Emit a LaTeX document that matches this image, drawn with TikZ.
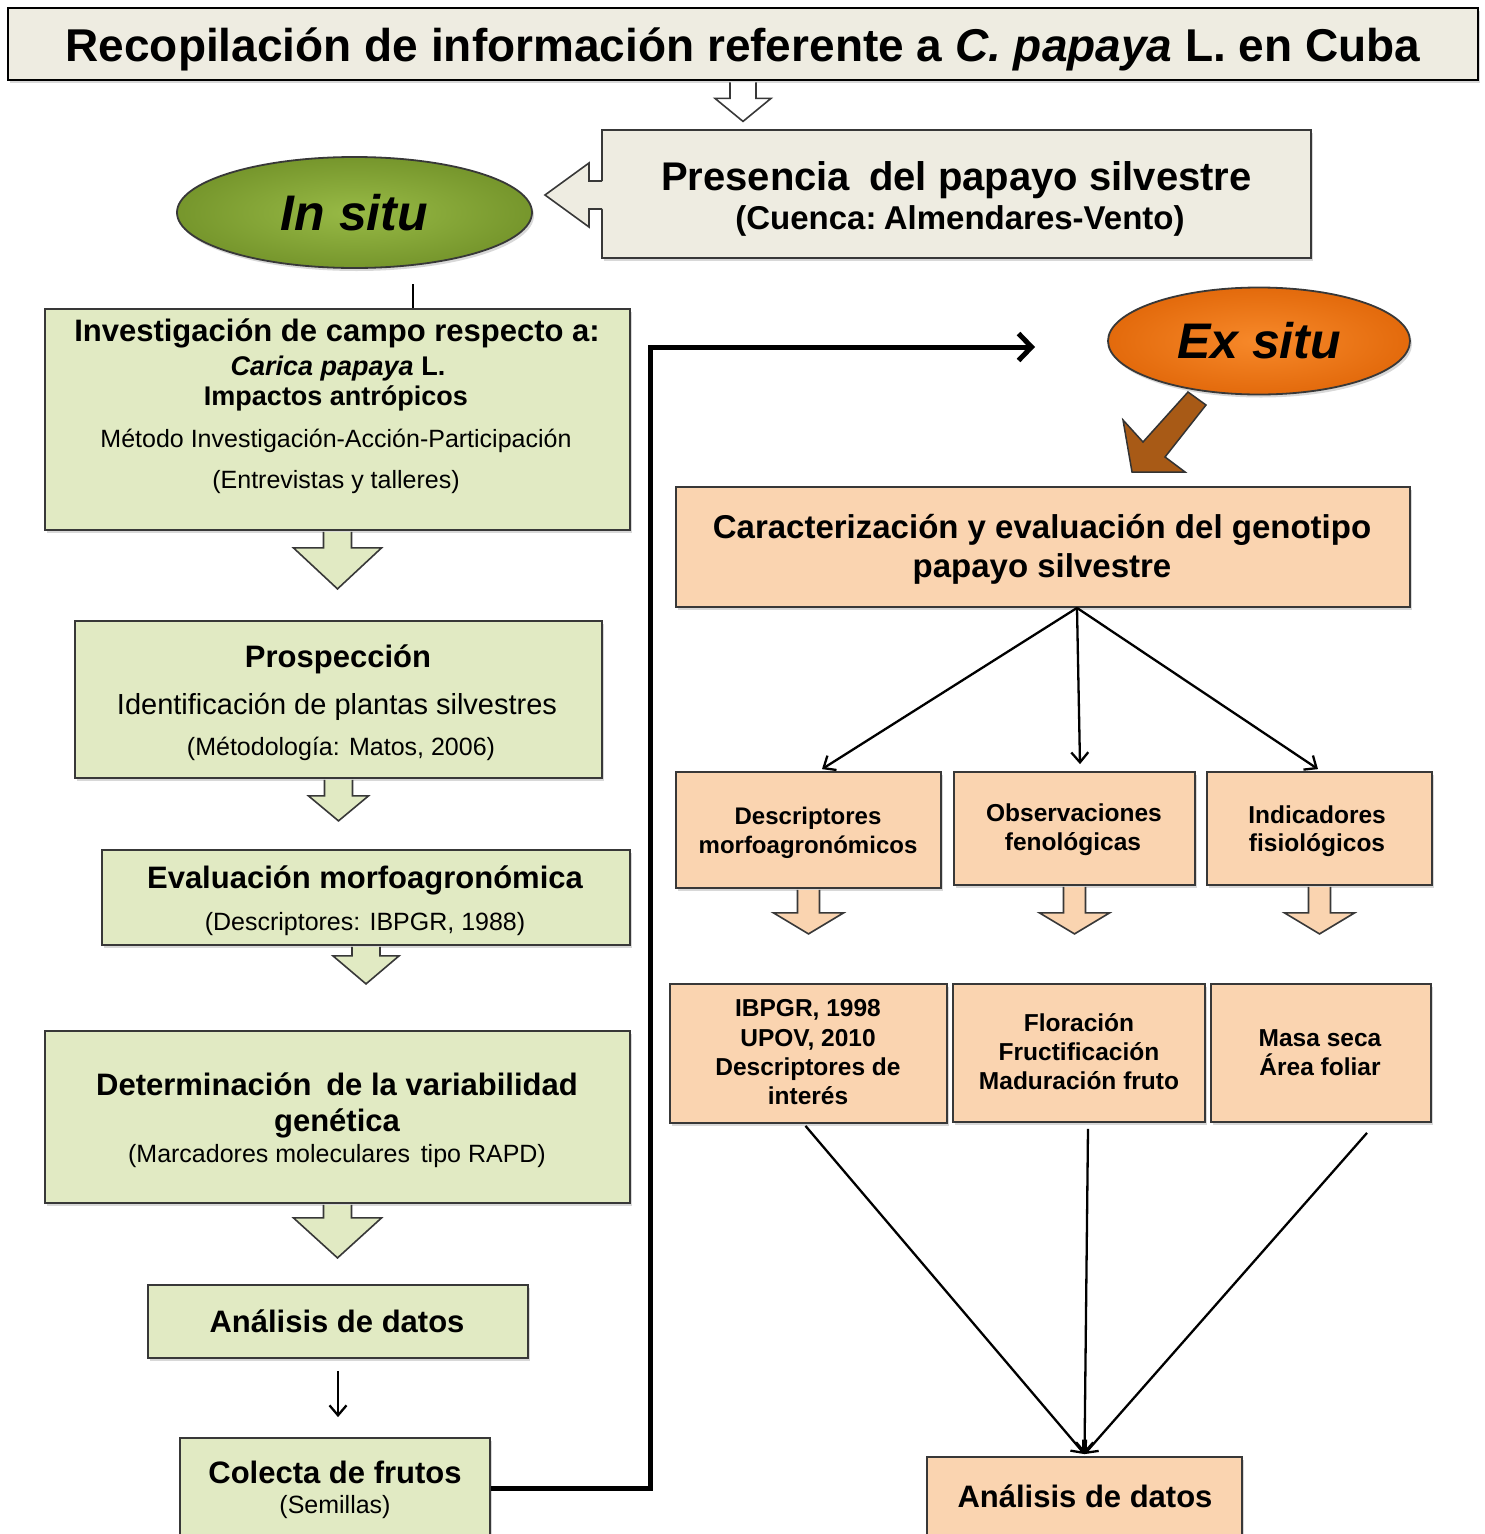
\documentclass[tikz,border=0pt]{standalone}
\usepackage{fontspec}
\setmainfont{Liberation Sans}
\usetikzlibrary{calc,arrows.meta,shadows,shapes.geometric}
\definecolor{tanc}{HTML}{EEECE1}
\definecolor{lgreen}{HTML}{E1EAC3}
\definecolor{peach}{HTML}{FAD4B0}
\definecolor{olivedk}{HTML}{76962C}
\definecolor{olivelt}{HTML}{98BA46}
\definecolor{orngdk}{HTML}{E36A0C}
\definecolor{ornglt}{HTML}{F7892A}
\definecolor{brwn}{HTML}{A85A16}
\definecolor{edgec}{HTML}{383838}
\newcommand\fs[1]{\fontsize{#1}{#1}\selectfont}
% block arrow pointing down: #1 start coordinate, #2 shaft half width, #3 shaft length,
% #4 head half width, #5 head length, #6 fill colour
\newcommand\bdown[6]{%
  \filldraw[blk, fill=#6] ($#1+(-#2,0.9)$) -- ($#1+(-#2,#3)$) -- ($#1+(-#4,#3)$)
    -- ($#1+(0,#3+#5)$) -- ($#1+(#4,#3)$) -- ($#1+(#2,#3)$) -- ($#1+(#2,0.9)$);}
\tikzset{
  box/.style={draw=edgec, line width=1.8pt, inner sep=0pt,
    drop shadow={shadow xshift=2pt, shadow yshift=-3pt, opacity=0.3}},
  gbox/.style={box, fill=lgreen},
  pbox/.style={box, fill=peach},
  tbox/.style={box, fill=tanc},
  blk/.style={draw=edgec, line width=1.6pt, line join=miter},
  tl/.style={inner sep=0pt, anchor=base},
  thinarrow/.style={line width=2.3pt, -{Straight Barb[length=10pt,width=17pt]}},
}
\begin{document}
\begin{tikzpicture}[x=1pt,y=-1pt]
\useasboundingbox (0,0) rectangle (1484,1534);
\clip (0,0) rectangle (1484,1534);
\fill[white] (0,0) rectangle (1484,1534);

% ---------- top ----------
\node[tbox, line width=2.8pt, draw=black, minimum width=1470pt, minimum height=72pt] (title) at (743,44) {};
\node[tl, font={\fs{46}\bfseries}] (titlet) at (743,61.5) {Recopilación de información referente a \textit{C. papaya} L. en Cuba};
\bdown{(title.south)}{13}{17}{28}{23}{white}

\node[tbox, line width=2.2pt, minimum width=709pt, minimum height=128pt] (pres) at (956.5,194) {};
\node[tl, font={\fs{40}\bfseries}] (pres1) at (956.5,190.3) {Presencia\hspace{0.2em} del papayo silvestre};
\node[tl, font={\fs{33}\bfseries}] (pres2) at (960,229.8) {(Cuenca:\hspace{-0.15em} Almendares-Vento)};
% callout arrow to the left
\fill[tanc] (603.5,181) -- (589,181) -- (589,163) -- (545,195) -- (589,227) -- (589,209) -- (603.5,209) -- cycle;
\draw[blk] (602,181) -- (589,181) -- (589,163) -- (545,195) -- (589,227) -- (589,209) -- (602,209);

\node[ellipse, draw=edgec, line width=1.8pt, minimum width=355pt, minimum height=111pt, inner sep=0pt,
      inner color=olivelt, outer color=olivedk,
      drop shadow={shadow xshift=2pt, shadow yshift=-3pt, opacity=0.3},
      font={\fs{50}\bfseries\itshape}] (insitu) at (354.5,212.5) {In situ};

% ---------- left column ----------
\node[gbox, minimum width=585pt, minimum height=221pt] (b1) at (337.5,419.5) {};
\node[tl, font={\fs{31}\bfseries}] (b1a) at (337,341.1) {Investigación de campo respecto a:};
\node[tl, font={\fs{27}\bfseries}] (b1b) at (338,375.7) {\textit{Carica papaya} L.};
\node[tl, font={\fs{27}\bfseries}] (b1c) at (336,405.7) {Impactos antrópicos};
\node[tl, font={\fs{25}}] (b1d) at (336,447) {Método Investigación-Acción-Participación};
\node[tl, font={\fs{25}}] (b1e) at (336,488) {(Entrevistas y talleres)};

\coordinate (b1top) at ($(b1.north)+(75.5,0)$);
\draw[line width=2.2pt] (b1top) -- ++(0,-24);

\node[gbox, minimum width=527pt, minimum height=157pt] (b2) at (338.5,699.5) {};
\node[tl, font={\fs{31}\bfseries}] (b2a) at (338,667.1) {Prospección};
\node[tl, font={\fs{29}}] (b2b) at (337,714.4) {Identificación de plantas silvestres};
\node[tl, font={\fs{25}}] (b2c) at (341,755) {(Métodología: Matos, 2006)};

\node[gbox, minimum width=528pt, minimum height=95pt] (b3) at (366,897.5) {};
\node[tl, font={\fs{31}\bfseries}] (b3a) at (365,888.1) {Evaluación morfoagronómica};
\node[tl, font={\fs{25}}] (b3b) at (365,930) {(Descriptores: IBPGR, 1988)};

\node[gbox, minimum width=585pt, minimum height=172pt] (b4) at (337.5,1117) {};
\node[tl, font={\fs{31}\bfseries}] (b4a) at (337,1095.1) {Determinación\hspace{0.2em} de la variabilidad};
\node[tl, font={\fs{31}\bfseries}] (b4b) at (337,1131.1) {genética};
\node[tl, font={\fs{25}}] (b4c) at (337,1162) {(Marcadores moleculares\hspace{0.15em} tipo RAPD)};

\node[gbox, minimum width=380pt, minimum height=73pt] (b5) at (338,1321.5) {};
\node[tl, font={\fs{31}\bfseries}] (b5a) at (337,1332.1) {Análisis de datos};

\node[gbox, minimum width=310pt, minimum height=100pt] (b6) at (335,1488) {};
\node[tl, font={\fs{31}\bfseries}] (b6a) at (335,1483.1) {Colecta de frutos};
\node[tl, font={\fs{25}}] (b6b) at (335,1513) {(Semillas)};

\bdown{(b1.south)}{14}{17}{44}{41}{lgreen}
\bdown{(b2.south)}{14}{17}{30}{25}{lgreen}
\bdown{(b3.south)}{14}{10}{33}{28}{lgreen}
\bdown{(b4.south)}{14}{14}{44}{40}{lgreen}

\draw[thinarrow] ($(b5.south)+(0,12)$) -- ($(b6.north)+(3,-20)$);

% ---------- right column ----------
\node[ellipse, draw=edgec, line width=1.8pt, minimum width=302pt, minimum height=107pt, inner sep=0pt,
      inner color=ornglt, outer color=orngdk,
      drop shadow={shadow xshift=2pt, shadow yshift=-3pt, opacity=0.3},
      font={\fs{50}\bfseries\itshape}] (exsitu) at (1259,341) {Ex situ};

\coordinate (turn) at (650,347);
\coordinate (exin) at (1035,347);
\draw[line width=5pt, line join=miter, -{Straight Barb[length=13pt,width=27pt]}] (b6.east) -| (turn) -- (exin);

\filldraw[fill=brwn, draw=black!80, line width=1.5pt, line join=miter]
  (1188,392) -- (1206,405) -- (1165,457) -- (1185,472) -- (1132,472) -- (1123,420) -- (1143,442) -- cycle;

\node[pbox, minimum width=734pt, minimum height=120pt] (car) at (1043,547) {};
\node[tl, font={\fs{33}\bfseries}] (cara) at (1042,538.8) {Caracterización y evaluación del genotipo};
\node[tl, font={\fs{33}\bfseries}] (carb) at (1042,577.8) {papayo silvestre};

\node[pbox, minimum width=265pt, minimum height=116pt] (dA) at (808.5,830) {};
\node[tl, font={\fs{24}\bfseries}] (dA1) at (808,824.6) {Descriptores};
\node[tl, font={\fs{24}\bfseries}] (dA2) at (808,853.6) {morfoagronómicos};
\node[pbox, minimum width=241pt, minimum height=113pt] (dB) at (1074.5,828.5) {};
\node[tl, font={\fs{24.5}\bfseries}] (dB1) at (1074,821.6) {Observaciones};
\node[tl, font={\fs{24.5}\bfseries}] (dB2) at (1073,850.6) {fenológicas};
\node[pbox, minimum width=225pt, minimum height=113pt] (dC) at (1319.5,828.5) {};
\node[tl, font={\fs{24.5}\bfseries}] (dC1) at (1317,823.6) {Indicadores};
\node[tl, font={\fs{24.5}\bfseries}] (dC2) at (1317,851.6) {fisiológicos};

\coordinate (carout) at ($(car.south)+(34,0)$);
\draw[thinarrow] (carout) -- ($(dA.north)+(13.5,-2)$);
\draw[thinarrow] (carout) -- ($(dB.north)+(5.5,-7)$);
\draw[thinarrow] (carout) -- ($(dC.north)+(-1.5,-2)$);

\bdown{(dA.south)}{11}{24}{35}{21}{peach}
\bdown{(dB.south)}{11}{27}{35}{21}{peach}
\bdown{(dC.south)}{11}{27}{35}{21}{peach}

\node[pbox, minimum width=277pt, minimum height=139pt] (eD) at (808.5,1053.5) {};
\node[tl, font={\fs{24.5}\bfseries}] (eD1) at (808,1016.6) {IBPGR, 1998};
\node[tl, font={\fs{24.5}\bfseries}] (eD2) at (808,1046.6) {UPOV, 2010};
\node[tl, font={\fs{24.5}\bfseries}] (eD3) at (808,1075.6) {Descriptores de};
\node[tl, font={\fs{24.5}\bfseries}] (eD4) at (808,1104.6) {interés};
\node[pbox, minimum width=252pt, minimum height=138pt] (eE) at (1079,1053) {};
\node[tl, font={\fs{24.5}\bfseries}] (eE1) at (1079,1031.6) {Floración};
\node[tl, font={\fs{24.5}\bfseries}] (eE2) at (1079,1060.6) {Fructificación};
\node[tl, font={\fs{24.5}\bfseries}] (eE3) at (1079,1089.6) {Maduración fruto};
\node[pbox, minimum width=220pt, minimum height=138pt] (eF) at (1321,1053) {};
\node[tl, font={\fs{24.5}\bfseries}] (eF1) at (1320,1046.6) {Masa seca};
\node[tl, font={\fs{24.5}\bfseries}] (eF2) at (1320,1075.6) {Área foliar};

\node[pbox, minimum width=315pt, minimum height=78pt] (g) at (1084.5,1496) {};
\node[tl, font={\fs{31}\bfseries}] (ga) at (1085,1507.1) {Análisis de datos};

\draw[thinarrow] ($(eD.south)+(-3,2)$) -- ($(g.north)+(0,-2)$);
\draw[thinarrow] ($(eE.south)+(9,6)$) -- ($(g.north)+(0,-2)$);
\draw[thinarrow] ($(eF.south)+(46,10)$) -- ($(g.north)+(0,-2)$);
\end{tikzpicture}
\end{document}
